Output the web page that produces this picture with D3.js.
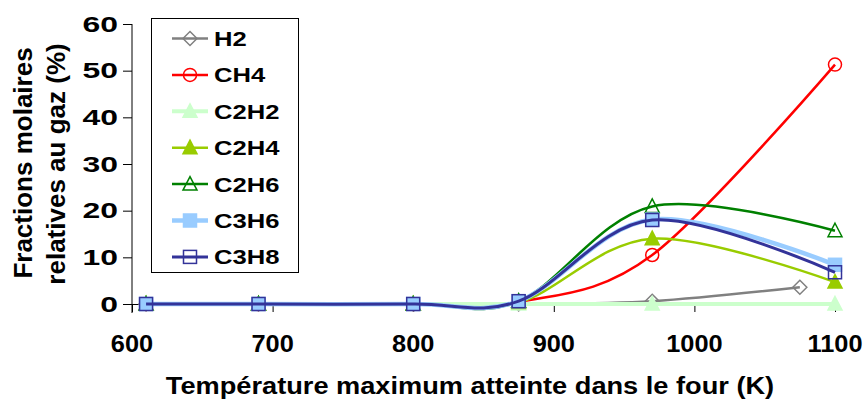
<!DOCTYPE html>
<html><head><meta charset="utf-8">
<script src="https://cdn.jsdelivr.net/npm/d3@7"></script>
<style>
body{margin:0;background:#fff;}
text{font-family:"Liberation Sans",Arial,sans-serif;font-weight:bold;fill:#000;}
</style></head>
<body><svg id="c" width="866" height="400"></svg>
<script>
const temps = [610, 690, 800, 875, 970, 1100];
const tempsH2 = [610, 690, 800, 875, 970, 1075];
const H2   = [0, 0, 0, 0, 0.6, 3.6];
const CH4  = [0, 0, 0, 0.4, 10.5, 51.3];
const C2H2 = [0, 0, 0, 0, 0, 0];
const C2H4 = [0, 0, 0, 0.3, 14.0, 4.7];
const C2H6 = [0, 0, 0, 0.6, 20.9, 15.7];
const C3H6 = [0, 0, 0, 0.6, 18.1, 8.4];
const C3H8 = [0, 0, 0, 0.6, 18.0, 6.8];
const seriesNames = ["H2","CH4","C2H2","C2H4","C2H6","C3H6","C3H8"];
const xTicks = [600, 700, 800, 900, 1000, 1100];
const yTicks = [0, 10, 20, 30, 40, 50, 60];
const xTitle = "Température maximum atteinte dans le four (K)";
const yTitle = ["Fractions molaires", "relatives au gaz (%)"];

const styles = {
  H2:   {color:"#808080", w:2.5, m:"diamond",  fill:"none"},
  CH4:  {color:"#ff0000", w:2.5, m:"circle",   fill:"none"},
  C2H2: {color:"#ccffcc", w:4,   m:"triangle", fill:"#ccffcc"},
  C2H4: {color:"#99cc00", w:2.5, m:"triangle", fill:"#99cc00"},
  C2H6: {color:"#008000", w:2.5, m:"triangle", fill:"none"},
  C3H6: {color:"#99ccff", w:4.5, m:"square",   fill:"#99ccff"},
  C3H8: {color:"#333399", w:3,   m:"square",   fill:"none"}
};
const dataMap = {H2, CH4, C2H2, C2H4, C2H6, C3H6, C3H8};
const xMap = {H2: tempsH2};

const svg = d3.select("#c");
const x = d3.scaleLinear().domain([600, 1100]).range([132, 835]);
const y = d3.scaleLinear().domain([0, 60]).range([304, 24]);

function label(parent, px, py, str, size, sx, anchor) {
  return parent.append("text")
    .attr("transform", `translate(${px},${py}) scale(${sx},1)`)
    .attr("text-anchor", anchor).attr("font-size", size).text(str);
}

// axes
const yAxis = svg.append("g").attr("transform","translate(132,0)")
  .call(d3.axisLeft(y).tickValues(yTicks).tickSize(9).tickFormat(""));
const xAxis = svg.append("g").attr("transform","translate(0,304)")
  .call(d3.axisBottom(x).tickValues(xTicks).tickSize(8).tickFormat(""));
svg.selectAll(".domain").attr("stroke","#000").attr("stroke-width",1);
svg.selectAll(".tick line").attr("stroke","#000");
yAxis.select(".domain").attr("d","M0,24V313");

yTicks.forEach(t => label(svg, 118, y(t) + 7.8, String(t), 22, 1.45, "end"));
xTicks.forEach(t => label(svg, x(t), 352, String(t), 23.5, 1.08, "middle"));

// titles
label(svg, 470, 394, xTitle, 24.5, 1.11, "middle");
svg.append("text").attr("transform","translate(32,163) rotate(-90)")
  .attr("text-anchor","middle").attr("font-size",26).text(yTitle[0]);
svg.append("text").attr("transform","translate(65,164) rotate(-90)")
  .attr("text-anchor","middle").attr("font-size",26).text(yTitle[1]);

function marker(g, type, cx, cy, st) {
  const s = 6.5;
  let el;
  if (type === "square") el = g.append("rect").attr("x",cx-s).attr("y",cy-s).attr("width",2*s).attr("height",2*s);
  else if (type === "circle") el = g.append("circle").attr("cx",cx).attr("cy",cy).attr("r",6.5);
  else if (type === "triangle") el = g.append("path").attr("d",`M${cx},${cy-7.5}L${cx+7},${cy+6}L${cx-7},${cy+6}Z`);
  else el = g.append("path").attr("d",`M${cx},${cy-7}L${cx+7},${cy}L${cx},${cy+7}L${cx-7},${cy}Z`);
  el.attr("fill", st.fill).attr("stroke", st.color).attr("stroke-width", 1.5);
}

const line = d3.line().curve(d3.curveCardinal.tension(0)).x(d=>x(d[0])).y(d=>y(d[1]));
const plot = svg.append("g");
seriesNames.forEach(name => {
  const st = styles[name];
  const xs = xMap[name] || temps;
  const pts = xs.map((t,i)=>[t, dataMap[name][i]]);
  const g = plot.append("g");
  g.append("path").attr("d", line(pts)).attr("fill","none")
    .attr("stroke", st.color).attr("stroke-width", st.w);
  pts.forEach(p => marker(g, st.m, x(p[0]), y(p[1]), st));
});

// legend
const leg = svg.append("g");
leg.append("rect").attr("x",151.5).attr("y",18.5).attr("width",147).attr("height",254)
  .attr("fill","#fff").attr("stroke","#000").attr("stroke-width",1);
seriesNames.forEach((name,i) => {
  const st = styles[name];
  const cy = 38.5 + i*36.4;
  leg.append("line").attr("x1",172).attr("x2",208).attr("y1",cy).attr("y2",cy)
    .attr("stroke", st.color).attr("stroke-width", st.w);
  marker(leg, st.m, 190, cy, st);
  label(leg, 214, cy + 7.5, name, 21, 1.22, "start");
});
</script></body></html>
